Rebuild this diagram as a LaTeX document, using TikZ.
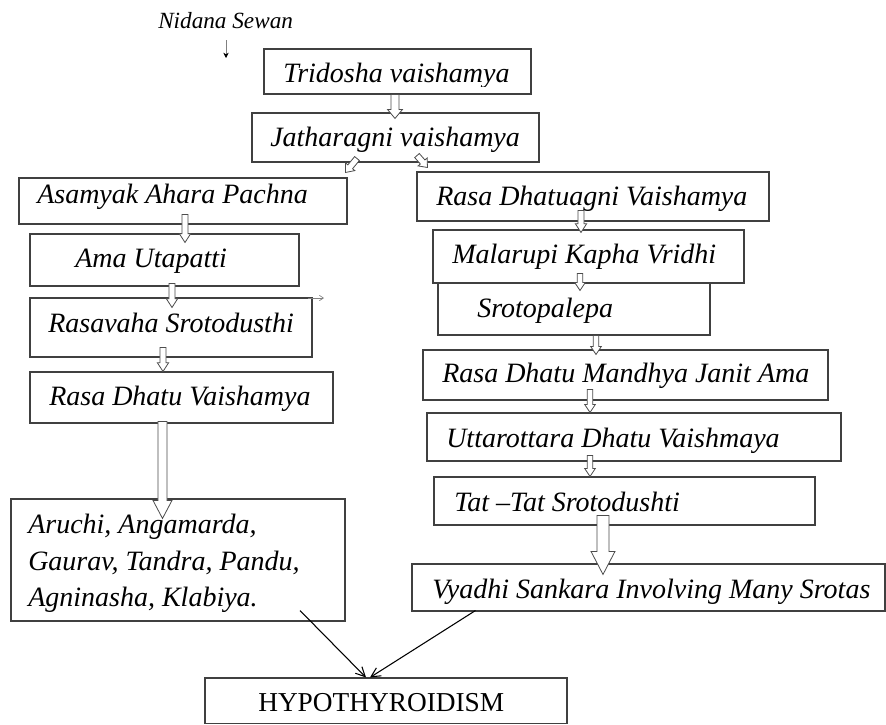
\documentclass[tikz,border=0pt]{standalone}
\usepackage{fontspec}
\setmainfont{Liberation Serif}
\usetikzlibrary{calc,fit,arrows.meta}
\tikzset{
  box/.style={draw=black!75, line width=0.8pt, inner sep=0pt},
  txt/.style={font=\fontsize{21}{25}\selectfont\itshape, inner sep=0pt, anchor=base west},
  blockarrow/.style={draw=black!70, line width=0.6pt, fill=white, line join=miter},
  thinarrow/.style={black, line width=0.8pt, -{Straight Barb[length=7pt,width=7pt]}},
}
% #1 start, #2 tip, #3 shaft half width, #4 head half width, #5 head length
\newcommand\blk[5]{%
  \coordinate (blkA) at #1;
  \coordinate (blkB) at #2;
  \coordinate (blkH) at ($(blkB)!#5!(blkA)$);
  \draw[blockarrow] ($(blkA)!#3!90:(blkB)$) -- ($(blkH)!#3!90:(blkB)$) -- ($(blkH)!#4!90:(blkB)$)
    -- (blkB) -- ($(blkH)!#4!-90:(blkB)$) -- ($(blkH)!#3!-90:(blkB)$) -- ($(blkA)!#3!-90:(blkB)$) -- cycle;
}
\begin{document}
\begin{tikzpicture}[x=0.75pt,y=-0.75pt]
\useasboundingbox (0,0) rectangle (886,725);
\fill[white] (0,0) rectangle (886,725);

% boxes
\node[box, fit={(264,49) (531,94)}] (tri) {};
\node[box, fit={(252,113) (539,162)}] (jat) {};
\node[box, fit={(19,178) (347,224)}] (asa) {};
\node[box, fit={(30,234) (299,286)}] (ama) {};
\node[box, fit={(30,298) (312,357)}] (rsv) {};
\node[box, fit={(30,372) (333,423)}] (rdv) {};
\node[box, fit={(11,499) (345,621)}] (aru) {};
\node[box, fit={(417,172) (769,221)}] (rdg) {};
\node[box, fit={(433,230) (744,283)}] (mal) {};
\node[box, fit={(438,283) (710,335)}] (srp) {};
\node[box, fit={(423,350) (828,400)}] (rdm) {};
\node[box, fit={(427,413) (841,461)}] (utt) {};
\node[box, fit={(434,477) (815,525)}] (tat) {};
\node[box, fit={(412,564) (885,611)}] (vya) {};
\node[box, fit={(205,678) (567,723.5)}] (hyp) {};

% texts
\node[font=\fontsize{17.4}{20}\selectfont\itshape, inner sep=0pt, anchor=base west] (nid) at (158,28) {Nidana Sewan};
\begin{scope}
  \clip (250,40) rectangle (540,86);
  \node[txt] (t-tri) at (283,82) {Tridosha vaishamya};
\end{scope}
\node[txt] (t-jat) at (270,146) {Jatharagni vaishamya};
\node[txt] (t-asa) at (37,203) {Asamyak Ahara Pachna};
\node[txt] (t-ama) at (75,267) {Ama Utapatti};
\node[txt] (t-rsv) at (48,332) {Rasavaha Srotodusthi};
\node[txt] (t-rdv) at (49,405) {Rasa Dhatu Vaishamya};
\node[txt] (t-aru1) at (28,533) {Aruchi, Angamarda,};
\node[txt] (t-aru2) at (28,570) {Gaurav, Tandra, Pandu,};
\node[txt] (t-aru3) at (28,606) {Agninasha, Klabiya.};
\node[txt] (t-rdg) at (436,205) {Rasa Dhatuagni Vaishamya};
\node[txt] (t-mal) at (452,263) {Malarupi Kapha Vridhi};
\node[txt] (t-srp) at (477,317) {Srotopalepa};
\node[txt] (t-rdm) at (442,382) {Rasa Dhatu Mandhya Janit Ama};
\node[txt] (t-utt) at (446,447) {Uttarottara Dhatu Vaishmaya};
\node[txt] (t-tat) at (454,511) {Tat –Tat Srotodushti};
\begin{scope}
  \clip (vya.south west) rectangle (vya.north east);
  \node[txt] (t-vya) at (432,598) {Vyadhi Sankara Involving Many Srotas};
\end{scope}
\node[font=\fontsize{20.5}{24}\selectfont, inner sep=0pt, anchor=base west] (t-hyp) at (258,711) {HYPOTHYROIDISM};

% small thin arrows
\coordinate (n1) at (226,40);
\coordinate (n2) at (226,58);
\draw[gray, line width=0.5pt, -{Stealth[length=4pt,width=4pt,color=black]}] (n1) -- (n2);
\coordinate (s1) at (308,298);
\coordinate (s2) at (324,298);
\draw[gray, line width=0.5pt, -{Straight Barb[length=3pt,width=4pt]}] (s1) -- (s2);

% block arrows
\blk{($(tri.south)+(-2.5,0)$)}{($(jat.north)+(-0.5,6)$)}{3pt}{5.6pt}{6.75pt}
\blk{($(jat.south)+(-38.5,-4)$)}{($(asa.north east)+(-2,-5)$)}{2.3pt}{4.5pt}{5.5pt}
\blk{($(jat.south)+(21.5,-7)$)}{($(rdg.north west)+(11,-4)$)}{2.3pt}{4.5pt}{5.5pt}
\blk{($(asa.south)+(2,-10)$)}{($(ama.north)+(20.5,9)$)}{2.3pt}{4.2pt}{6.5pt}
\blk{($(ama.south)+(7.5,-3)$)}{($(rsv.north)+(1,10)$)}{2.3pt}{4.2pt}{6.5pt}
\blk{($(rsv.south)+(-8,-10)$)}{($(rdv.north)+(-18.5,0)$)}{2.3pt}{4.2pt}{6.5pt}
\blk{($(rdv.south)+(-19,-2)$)}{($(aru.north)+(-15.5,20)$)}{3.4pt}{7.1pt}{13.5pt}
\blk{($(rdg.south)+(-12,-11)$)}{($(mal.north)+(-7.5,3)$)}{2.3pt}{4.2pt}{6.5pt}
\blk{($(mal.south)+(-8.5,-10)$)}{($(srp.north)+(6,8)$)}{2.1pt}{4pt}{6pt}
\blk{($(srp.south)+(22,0)$)}{($(rdm.north)+(-29.5,5)$)}{2.1pt}{4pt}{6pt}
\blk{($(rdm.south)+(-35.5,-11)$)}{($(utt.north)+(-44,0)$)}{2.1pt}{4pt}{6pt}
\blk{($(utt.south)+(-44,-6)$)}{($(tat.north)+(-34.5,0)$)}{2pt}{4pt}{6pt}
\blk{($(tat.south)+(-21.5,-10)$)}{($(vya.north)+(-45.5,11)$)}{4.5pt}{9pt}{17.3pt}

% arrows into HYPOTHYROIDISM
\draw[thinarrow] ($(aru.south)+(122,-11)$) -- ($(hyp.north)+(-20,0)$);
\draw[thinarrow] ($(vya.south west)+(64,-1)$) -- ($(hyp.north)+(-16,0)$);
\end{tikzpicture}
\end{document}
